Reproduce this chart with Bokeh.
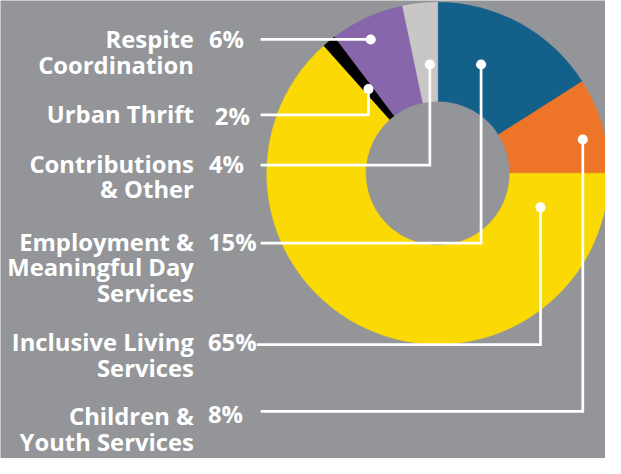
import numpy as np
from bokeh.plotting import figure
from bokeh.models import Range1d
from bokeh.core.properties import value
from bokeh.embed import file_html
from bokeh.resources import INLINE

# ---- data (slice order: clockwise from 12 o'clock) ----
categories = ["Employment & Meaningful Day Services", "Children & Youth Services",
              "Inclusive Living Services", "Urban Thrift", "Respite Coordination",
              "Contributions & Other"]
shares = [16.0, 9.0, 63.4, 1.3, 7.0, 3.3]          # slice sizes as drawn
pct_labels = ["15%", "8%", "65%", "2%", "6%", "4%"]
label_lines = [["Employment &", "Meaningful Day", "Services"],
               ["Children &", "Youth Services"],
               ["Inclusive Living", "Services"],
               ["Urban Thrift"],
               ["Respite", "Coordination"],
               ["Contributions", "& Other"]]
colors = ["#13618a", "#ee7428", "#fbd905", "#000000", "#8866ac", "#c8c7c6"]

# ---- layout (reference-pixel coordinates) ----
W, H = 605, 458
REF_W = 621.0
S = W / REF_W
REF_H = H / S
OFF = 5.0                     # reference y shown at the top edge
Y0 = OFF + REF_H
TEXT_SHIFT = 9.2              # compensate svg baseline placement

label_base = [261.7, 441.0, 365.0, 130.7, 54.0, 181.7]
pct_x = [213, 213, 213, 220, 214, 214]
pct_base = [261.7, 438.3, 365.0, 133.0, 54.0, 181.7]
line_y = [254.0, 426.7, 358.3, 122.3, 45.0, 174.0]
line_x0 = [267, 267, 263, 267, 267, 267]
dot_x = [493.3, 597.7, 554.3, 377.7, 380.0, 440.7]
dot_y = [70.7, 147.7, 217.3, 96.0, 45.0, 70.7]
LINE_GAP = 26.3
LABEL_RIGHT = 198.5
CX, CY = 448.8, 182.3
R_IN, R_OUT = 74.0, 175.5
BG = "#939598"


def fy(y):
    return Y0 - y


p = figure(width=W, height=H, output_backend="svg", toolbar_location=None,
           x_range=Range1d(0, REF_W), y_range=Range1d(0, REF_H),
           min_border=0)
p.axis.visible = False
p.grid.visible = False
p.outline_line_color = None
p.background_fill_color = BG
p.border_fill_color = BG

# donut
fr = np.array(shares) / sum(shares)
cum = np.concatenate([[0], np.cumsum(fr)])
starts = np.pi / 2 - 2 * np.pi * cum[:-1]
ends = np.pi / 2 - 2 * np.pi * cum[1:]
p.annular_wedge(x=CX, y=fy(CY), inner_radius=R_IN, outer_radius=R_OUT,
                start_angle=starts, end_angle=ends, direction="clock",
                fill_color=colors, line_color=colors, line_width=0.5)

# leader lines
xs = [[line_x0[i], dot_x[i], dot_x[i]] for i in range(len(categories))]
ys = [[fy(line_y[i]), fy(line_y[i]), fy(dot_y[i])] for i in range(len(categories))]
p.multi_line(xs=xs, ys=ys, line_color="white", line_width=2.8 * S,
             line_join="miter")
p.circle(x=dot_x, y=[fy(v) for v in dot_y], radius=5.2,
         fill_color="white", line_color=None)

# labels
FS = "%.1fpx" % (24.4 * S)
tx, ty, tt = [], [], []
for i, lines in enumerate(label_lines):
    for j, t in enumerate(lines):
        tx.append(LABEL_RIGHT)
        ty.append(fy(label_base[i] + j * LINE_GAP - TEXT_SHIFT))
        tt.append(t)
p.text(x=tx, y=ty, text=tt, text_align="right", text_baseline="alphabetic",
       text_font=value("Open Sans"), text_font_style="bold",
       text_font_size=FS, text_color="white")
p.text(x=pct_x, y=[fy(v - TEXT_SHIFT) for v in pct_base], text=pct_labels,
       text_align="left", text_baseline="alphabetic",
       text_font=value("Open Sans"), text_font_style="bold",
       text_font_size=FS, text_color="white")

open("out.html", "w").write(file_html(p, INLINE))
